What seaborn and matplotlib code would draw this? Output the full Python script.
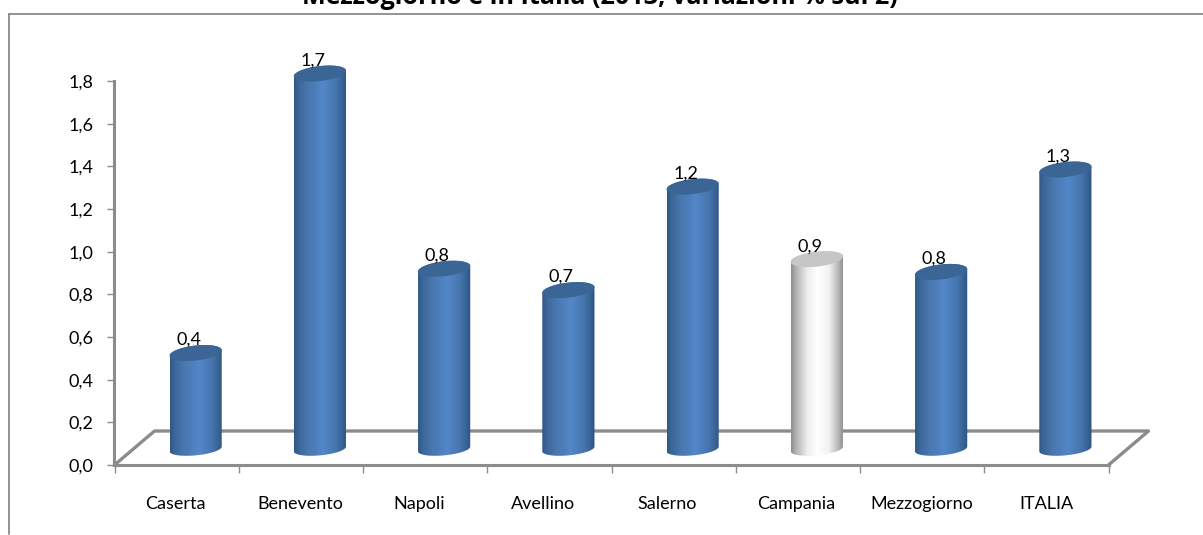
import numpy as np
import pandas as pd
import matplotlib
matplotlib.use("Agg")
import matplotlib.pyplot as plt
from matplotlib.colors import LinearSegmentedColormap
from matplotlib.lines import Line2D
from matplotlib.patches import Polygon
from matplotlib.path import Path
from matplotlib.transforms import ScaledTranslation
import seaborn as sns

categories = ["Caserta", "Benevento", "Napoli", "Avellino", "Salerno", "Campania", "Mezzogiorno", "ITALIA"]
bar_values = [0.45, 1.76, 0.845, 0.745, 1.23, 0.89, 0.83, 1.31]
bar_labels = ["0,4", "1,7", "0,8", "0,7", "1,2", "0,9", "0,8", "1,3"]
y_ticks = [0.0, 0.2, 0.4, 0.6, 0.8, 1.0, 1.2, 1.4, 1.6, 1.8]
y_tick_labels = ["0,0", "0,2", "0,4", "0,6", "0,8", "1,0", "1,2", "1,4", "1,6", "1,8"]
title = "Mezzogiorno e in Italia (2013, variazioni % sul 2)"
highlight = "Campania"

W, H = 1203, 535
GREY = "#8c8c8c"
sns.set_theme(style="white")
plt.rcParams["font.family"] = ["Lato", "DejaVu Sans"]
FS = 13

fig = plt.figure(figsize=(W / 100, H / 100), dpi=100, facecolor="white")

def rect(l, r, bottom, top):
    return [l / W, 1 - bottom / H, (r - l) / W, (bottom - top) / H]

# chart frame
fl = 8.5 / W
ft = 1 - 13.5 / H
fig.add_artist(Line2D([fl, 1], [ft, ft], color="#8a8a8a", lw=1.3))
fig.add_artist(Line2D([fl, fl], [ft, 1 / H], color="#8a8a8a", lw=1.3))

fig.text(600 / W, 1 - 3.5 / H, title, ha="center", va="baseline", fontsize=18.2,
         fontweight="bold", family=["Open Sans", "DejaVu Sans"], color="black")

# front axes
ax = fig.add_axes(rect(114.5, 1108.5, 465, 81))
ax.set_facecolor("none")
ax.set_xlim(-0.5, len(categories) - 0.5)
ax.set_ylim(0, 1.8)
ax.set_yticks(y_ticks)
ax.set_yticklabels(y_tick_labels, fontsize=FS, color="black")
ax.set_xticks(range(len(categories)))
ax.set_xticklabels(categories, fontsize=FS, color="black")
ax.set_xticks(np.arange(-0.5, len(categories)), minor=True)
ax.tick_params(axis="x", which="major", length=0, pad=22)
ax.tick_params(axis="x", which="minor", length=6, width=1.0, color=GREY, bottom=True)
ax.tick_params(axis="y", which="major", length=5, width=1.0, color=GREY, pad=10, left=True)
# the original's labels do not sit exactly on the slot centres
for lab, shift in zip(ax.get_xticklabels(), [-1.5, -1, -6, -6, -7, -2, 0, 0]):
    lab.set_transform(lab.get_transform() + ScaledTranslation(shift / 100, 0, fig.dpi_scale_trans))
for s in ("top", "right"):
    ax.spines[s].set_visible(False)
for s in ("left", "bottom"):
    ax.spines[s].set_color(GREY)
    ax.spines[s].set_linewidth(2.2)

# floor of the 3D box
dx, dy = 40 / 994, 34 / 384
floor_kw = dict(transform=ax.transAxes, color=GREY, clip_on=False, zorder=1)
ax.plot([0, dx, 1 + dx, 1], [0, dy, dy, 0], lw=2.4, **floor_kw)

# bars, set back into the box
bx = fig.add_axes(rect(114.5 + 19, 1108.5 + 19, 465 - 16, 81 - 16))
bx.patch.set_alpha(0)
df = pd.DataFrame({"cat": categories, "val": bar_values})
palette = {c: ("#e8e8e8" if c == highlight else "#4f81bd") for c in categories}
sns.barplot(data=df, x="cat", y="val", hue="cat", palette=palette, legend=False,
            order=categories, width=0.42, ax=bx)

blue = LinearSegmentedColormap.from_list("b", [(0, "#2f5685"), (0.08, "#3c6699"), (0.28, "#4a78b0"),
                                               (0.55, "#5287c9"), (0.8, "#4675ad"), (0.94, "#345f90"), (1, "#2c5280")])
white = LinearSegmentedColormap.from_list("w", [(0, "#8f8f8f"), (0.1, "#b5b5b5"), (0.3, "#ececec"),
                                                (0.5, "#ffffff"), (0.72, "#f2f2f2"), (0.9, "#b5b5b5"), (1, "#8a8a8a")])
px = 1.8 / 384
semi, tilt = 7.5 * px, 2.8 * px
t = np.linspace(0, 2 * np.pi, 80)
grad = np.linspace(0, 1, 128)[None, :]
for p in list(bx.patches):
    w, h = p.get_width(), p.get_height()
    if h == 0:
        continue
    x0 = p.get_x()
    cx = x0 + w / 2
    idx = int(round(cx))
    hi = categories[idx] == highlight
    xs = cx + w / 2 * np.cos(t)
    off = semi * np.sin(t) + tilt * np.cos(t)
    base = np.column_stack([xs, off * 0.85])
    top = np.column_stack([xs, h + off])
    lower = base[t > np.pi]
    upper = top[t <= np.pi]
    outline = np.vstack([lower, upper, lower[:1]])
    p.set_visible(False)
    im = bx.imshow(grad, extent=[x0, x0 + w, -0.1, h + 0.1], aspect="auto",
                   cmap=white if hi else blue, vmin=0, vmax=1, zorder=3, interpolation="bilinear")
    im.set_clip_box(fig.bbox)
    im.set_clip_path(Path(outline), transform=bx.transData)
    bx.add_patch(Polygon(top, closed=True, fc="#c6c6c6" if hi else "#3b6594", ec="none", zorder=4))
    bx.annotate(bar_labels[idx], (cx, h), xytext=(-7 * 0.72, 13 * 0.72), textcoords="offset points",
                ha="center", va="center", fontsize=FS, color="black", zorder=5, annotation_clip=False)

bx.set_xlim(-0.5, len(categories) - 0.5)
bx.set_ylim(0, 1.8)
bx.axis("off")

fig.savefig("out.png", dpi=100, facecolor="white")
